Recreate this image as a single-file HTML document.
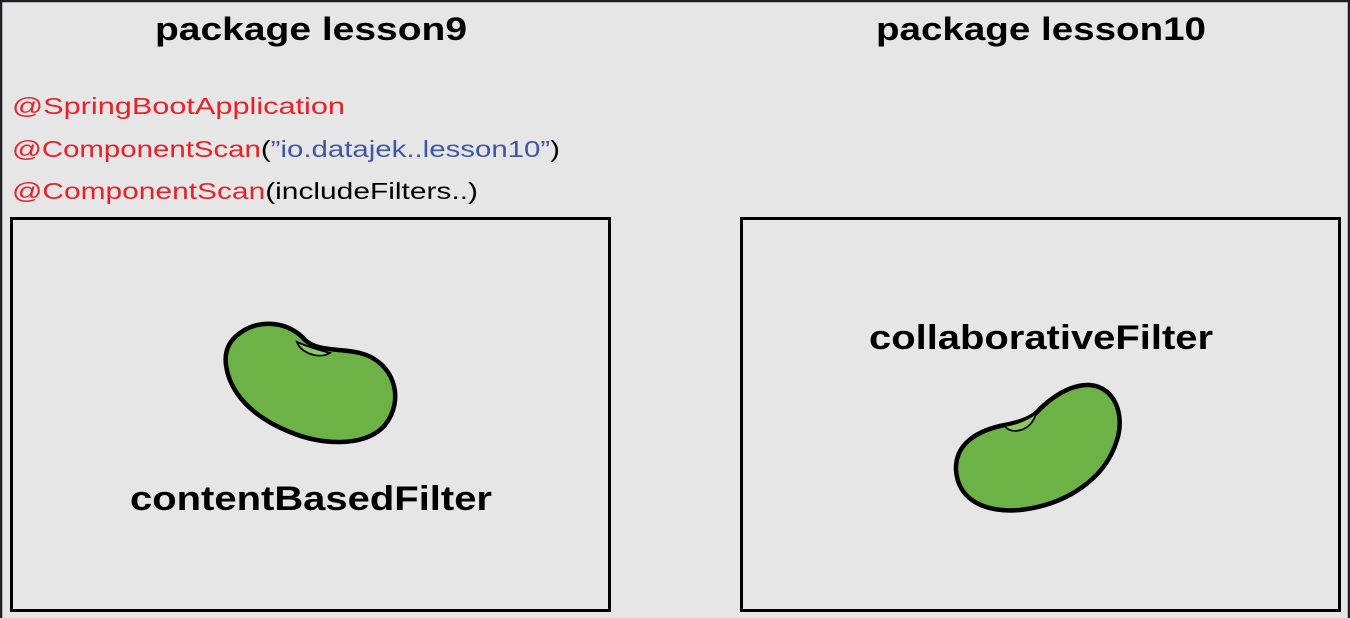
<!DOCTYPE html>
<html><head><style>html,body{margin:0;padding:0;background:#e6e6e6;}svg{display:block}</style></head>
<body>
<svg width="1350" height="618" viewBox="0 0 1350 618" xmlns="http://www.w3.org/2000/svg" font-family="Liberation Sans, sans-serif">
<rect x="0" y="0" width="1350" height="618" fill="#e6e6e6"/>
<rect x="1" y="1" width="1348" height="620" fill="none" stroke="#1e1e24" stroke-width="2.5"/>
<text x="311" y="40" text-anchor="middle" font-size="32" font-weight="bold" fill="#000" textLength="312" lengthAdjust="spacingAndGlyphs">package lesson9</text>
<text x="1041" y="40" text-anchor="middle" font-size="32" font-weight="bold" fill="#000" textLength="330" lengthAdjust="spacingAndGlyphs">package lesson10</text>
<text x="12" y="114" font-size="23" fill="#e8212a" textLength="333" lengthAdjust="spacingAndGlyphs">@SpringBootApplication</text>
<text x="12" y="157" font-size="23" textLength="548" lengthAdjust="spacingAndGlyphs"><tspan fill="#e8212a">@ComponentScan</tspan><tspan fill="#000">(</tspan><tspan fill="#3f58a6">”io.datajek..lesson10”</tspan><tspan fill="#000">)</tspan></text>
<text x="12" y="199" font-size="23" textLength="466" lengthAdjust="spacingAndGlyphs"><tspan fill="#e8212a">@ComponentScan</tspan><tspan fill="#000">(includeFilters..)</tspan></text>
<rect x="11.5" y="218.5" width="598" height="392" fill="none" stroke="#000" stroke-width="3"/>
<rect x="741.5" y="218.5" width="598" height="392" fill="none" stroke="#000" stroke-width="3"/>
<path d="M240,333 C260,318 290,322 305,340 C318,352 340,348 360,353 C395,362 405,400 385,425 C365,448 320,445 290,432 C255,418 230,395 226,365 C224,350 230,340 240,333 Z" fill="#6db246" stroke="#000" stroke-width="4.5"/>
<path d="M297,342 C300,352 318,360 330,353 C320,350 308,347 297,342 Z" fill="#8cc964" stroke="#000" stroke-width="1.8"/>
<text x="311" y="510" text-anchor="middle" font-size="34" font-weight="bold" fill="#000" textLength="362" lengthAdjust="spacingAndGlyphs">contentBasedFilter</text>
<text x="1041" y="349" text-anchor="middle" font-size="34" font-weight="bold" fill="#000" textLength="344" lengthAdjust="spacingAndGlyphs">collaborativeFilter</text>
<path d="M1036,413 C1050,398 1070,384 1090,385 C1115,387 1125,415 1117,440 C1105,480 1065,505 1020,510 C985,513 958,500 956,470 C955,445 975,432 1000,426 C1015,423 1028,420 1036,413 Z" fill="#6db246" stroke="#000" stroke-width="4.5"/>
<path d="M1005,426 C1010,435 1032,432 1036,413 C1028,420 1016,424 1005,426 Z" fill="#8cc964" stroke="#000" stroke-width="1.8"/>
</svg>
</body></html>
